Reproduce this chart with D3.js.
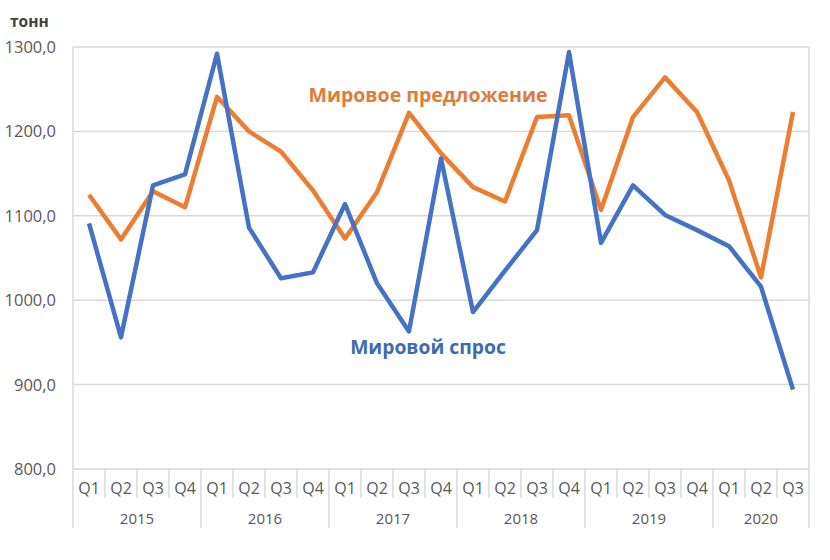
<!DOCTYPE html>
<html><head><meta charset="utf-8">
<script src="https://cdn.jsdelivr.net/npm/d3@7"></script>
<style>body{margin:0;background:#fff}svg{display:block}</style>
</head><body>
<svg id="c" width="830" height="560"></svg>
<script>
const years = ["2015","2016","2017","2018","2019","2020"];
const quartersPerYear = [4,4,4,4,4,3];
const quarterLabels = ["Q1","Q2","Q3","Q4"];
const demand = [1091,956,1136,1149,1292,1086,1026,1033,1114,1020,963,1168,986,1035,1083,1294,1068,1136,1101,1083,1064,1016,894];
const supply = [1125,1072,1129,1110,1241,1200,1176,1130,1073,1128,1222,1174,1134,1117,1217,1219,1107,1217,1264,1223,1142,1027,1223];
const yTicks = [800,900,1000,1100,1200,1300];

const cats = [];
years.forEach((y,i)=>{for(let q=0;q<quartersPerYear[i];q++) cats.push({year:y,q:quarterLabels[q],key:y+"-"+quarterLabels[q]});});

const svg = d3.select("#c");
const L=73,R=809,T=47,B=469;
const x = d3.scaleBand().domain(cats.map(d=>d.key)).range([L,R]);
const y = d3.scaleLinear().domain([800,1300]).range([B,T]);
const grid="#d9d9d9", txt="#595959";

svg.append("g").selectAll("line").data(yTicks).join("line")
  .attr("x1",L).attr("x2",R).attr("y1",d=>y(d)).attr("y2",d=>y(d))
  .attr("stroke",grid).attr("stroke-width",1.5);
svg.append("g").selectAll("text").data(yTicks).join("text")
  .attr("x",56).attr("y",d=>y(d)+6).attr("text-anchor","end")
  .attr("font-family","Open Sans, sans-serif").attr("font-size",16.5).attr("fill",txt)
  .text(d=>d3.format(".1f")(d).replace(".",","));
svg.append("text").attr("x",10).attr("y",27).attr("font-family","Open Sans, sans-serif")
  .attr("font-weight","bold").attr("font-size",15.5).attr("fill","#404040").text("тонн");

svg.append("line").attr("x1",L).attr("x2",L).attr("y1",T).attr("y2",528).attr("stroke",grid).attr("stroke-width",1.5);
svg.append("line").attr("x1",R).attr("x2",R).attr("y1",T).attr("y2",528).attr("stroke",grid).attr("stroke-width",1.5);

svg.append("g").selectAll("line").data(cats.slice(1)).join("line")
  .attr("x1",d=>x(d.key)).attr("x2",d=>x(d.key)).attr("y1",B)
  .attr("y2",d=>d.q==="Q1"?528:498).attr("stroke",grid).attr("stroke-width",1.5);
svg.append("g").selectAll("text").data(cats).join("text")
  .attr("x",d=>x(d.key)+x.bandwidth()/2).attr("y",494).attr("text-anchor","middle")
  .attr("font-family","Open Sans, sans-serif").attr("font-size",16).attr("fill",txt).text(d=>d.q);
const yearGroups = years.map(yr=>{const c=cats.filter(d=>d.year===yr);return {yr,x0:x(c[0].key),x1:x(c[c.length-1].key)+x.bandwidth()};});
svg.append("g").selectAll("text").data(yearGroups).join("text")
  .attr("x",d=>(d.x0+d.x1)/2).attr("y",524).attr("text-anchor","middle")
  .attr("font-family","Open Sans, sans-serif").attr("font-size",15).attr("fill",txt).text(d=>d.yr);

const line = d3.line().x((d,i)=>x(cats[i].key)+x.bandwidth()/2).y(d=>y(d));
svg.append("path").datum(supply).attr("d",line).attr("fill","none").attr("stroke","#ED7D31").attr("stroke-width",4.5).attr("stroke-linejoin","round");
svg.append("path").datum(demand).attr("d",line).attr("fill","none").attr("stroke","#4472C4").attr("stroke-width",4.5).attr("stroke-linejoin","round");

svg.append("text").attr("x",428).attr("y",102).attr("text-anchor","middle")
  .attr("font-family","Open Sans, sans-serif").attr("font-weight","bold").attr("font-size",19.5).attr("fill","#E07B39").text("Мировое предложение");
svg.append("text").attr("x",428).attr("y",354).attr("text-anchor","middle")
  .attr("font-family","Open Sans, sans-serif").attr("font-weight","bold").attr("font-size",19.3).attr("fill","#3B6CB3").text("Мировой спрос");
</script>
</body></html>
